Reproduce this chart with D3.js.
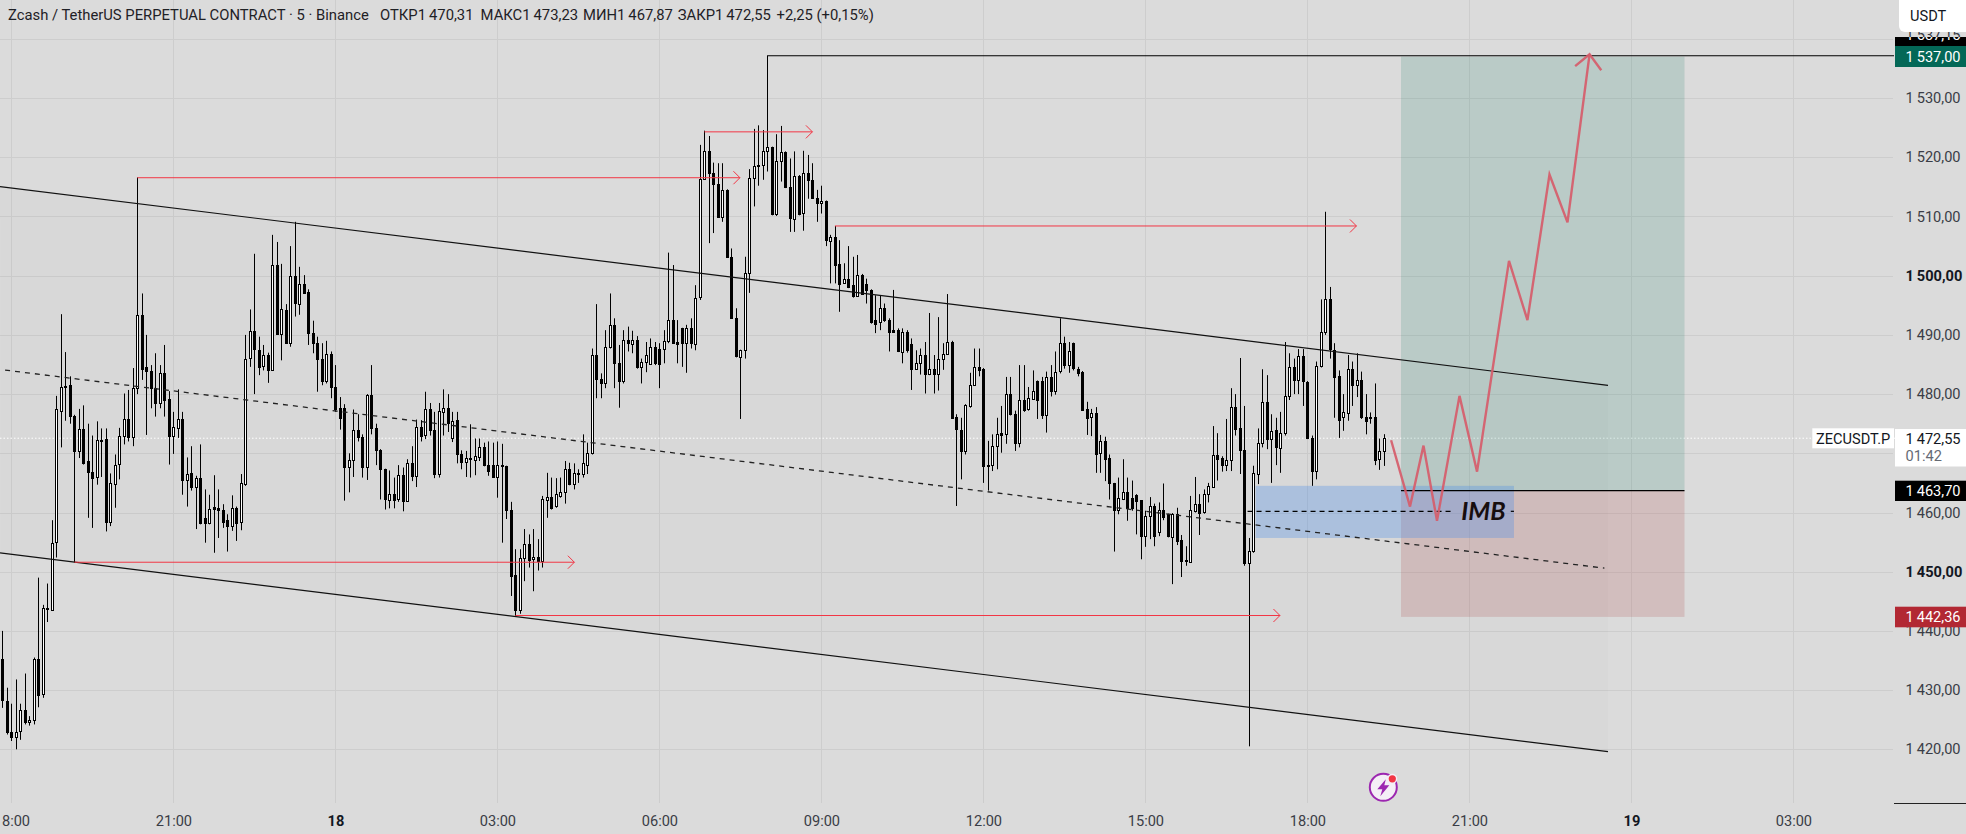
<!DOCTYPE html>
<html>
<head>
<meta charset="utf-8">
<title>ZECUSDT.P</title>
<script src="https://cdn.jsdelivr.net/npm/d3@7"></script>
<style>
    html, body { margin: 0; padding: 0; background: #dbdbdb; overflow: hidden; }
    text { font-family: Roboto, "Liberation Sans", sans-serif; }
</style>
</head>
<body>
<div id="chart"></div>
<script>
// candles, 5 minute bars, first one is two bars before the 18:00 tick
const firstBar = -2;

const opens = [
    1435.2,1428.2,1423,1422.2,1423,1426.6,1424.5,1424.9,1435.2,1429.2,
    1443.8,1443.5,1454.9,1477.2,1481.2,1481.5,1476.3,1470.4,1474.1,1468.7,
    1466.9,1465.9,1472.2,1472.4,1458.3,1464.9,1468.1,1472.9,1475.8,1472.7,
    1481,1493.4,1484.6,1483.9,1481,1478.4,1483.5,1479.1,1472.9,1474.2,
    1475.8,1465.5,1466.6,1464.3,1465.9,1459.1,1458.3,1460.9,1460.7,1460.5,
    1458.7,1457.7,1460.8,1458.3,1464.9,1486,1490.6,1487.5,1484.7,1486.6,
    1484,1501.8,1490.1,1494.2,1488.6,1499.9,1495.3,1498.6,1497.3,1490.4,
    1488.7,1486,1482.2,1486.8,1481.2,1477.7,1477.7,1467.7,1468.8,1473.9,
    1472.7,1467.7,1479.8,1474.2,1470.5,1467.3,1462.2,1463.2,1462.2,1466.3,
    1461.9,1468.4,1466.2,1474.5,1473,1477.4,1473.9,1466.5,1477,1477.6,
    1472.7,1475.6,1469.8,1468.6,1469.2,1469,1469.4,1471.1,1468,1468.1,
    1466,1468,1467.9,1460.5,1449.5,1443.6,1452.3,1454.7,1452,1452.4,
    1451.8,1462.1,1462.6,1461.1,1462.8,1463.4,1467.3,1464.8,1466.6,1466.4,
    1468.1,1470.1,1486.6,1482.6,1481.9,1487.9,1491.7,1485.2,1482.1,1489.1,
    1488.4,1489.1,1484.6,1485.5,1485.1,1487.9,1487.7,1487.7,1489,1492.5,
    1488.8,1491.1,1488.6,1491.1,1488.6,1496.3,1516.3,1521.1,1517.4,1515.5,
    1510,1514.5,1503.1,1492.8,1486.3,1487.4,1500.4,1516.5,1518.6,1518.7,
    1521,1521.7,1510.3,1519.3,1520.9,1515,1509.7,1516.9,1510.5,1517.3,
    1516.2,1513.1,1512.2,1512.6,1506,1506.5,1502,1498.8,1499.5,1498.4,
    1496.6,1500.2,1498.6,1497.6,1492.5,1492.1,1494.5,1492.6,1490.8,1490.8,
    1487.2,1490.5,1488.4,1484.2,1485.2,1486.6,1483.4,1484.2,1483.4,1486,
    1486.8,1488.8,1476.1,1474,1470.4,1478,1481.5,1484.6,1484.3,1468.1,
    1468,1471.2,1473.5,1473.3,1480,1476.7,1471.8,1479,1477.4,1479.3,
    1482.2,1482.2,1476.4,1482.9,1480.6,1483.8,1488.6,1484.9,1488.6,1484.3,
    1483.8,1477.4,1476.1,1476.8,1469.9,1472,1469.2,1465,1460.4,1462.4,
    1463.5,1462.5,1462.9,1462.1,1456,1459.4,1461.1,1456.8,1460.5,1459.7,
    1455.9,1459.8,1455.3,1451.9,1451.7,1460.3,1461.5,1460,1463.1,1464.3,
    1469.7,1469.2,1468,1468.9,1477.9,1474.2,1470.5,1451.4,1453.5,1466.6,
    1471.8,1478.7,1472.5,1473.9,1471,1473.5,1479.7,1484.6,1482.4,1486.4,
    1482.1,1472.6,1467,1484.7,1490.5,1496,1487.5,1483,1476,1476.7,
    1484.2,1481.5,1482.4,1476.2,1476,1476.2,1469,1470.31
];

const highs = [
    1440,1430.4,1427.7,1431.8,1427.7,1432.8,1425.6,1435.5,1449,1444.4,
    1448,1458.7,1479.7,1493.5,1487.1,1483,1476.5,1477.5,1478.1,1475,
    1473,1475.4,1474.2,1474.2,1466.6,1469.8,1474.3,1480.1,1480.7,1484.4,
    1516.6,1497,1490,1484.9,1486.9,1484.9,1488.3,1480.5,1477,1480.8,
    1477,1469.3,1471.2,1466.2,1471.5,1463.9,1463,1466.3,1463.9,1461.4,
    1459.7,1462.9,1461,1466.5,1490,1494.3,1503.7,1489.7,1488.3,1487,
    1506.9,1505.7,1502,1495.2,1505,1509.1,1501.5,1500.1,1497.7,1492.4,
    1489.7,1488.6,1489,1487.2,1484.9,1479.5,1478.3,1470,1477.4,1476.6,
    1473.2,1480,1484.9,1475,1470.7,1467.4,1467.1,1465.9,1468,1467.6,
    1469,1471.2,1475.7,1475.6,1480.4,1478.5,1477,1478.5,1480.8,1480,
    1477,1477,1470.5,1470.4,1474.9,1472.5,1472.5,1471.8,1472,1471.8,
    1472,1471.6,1467.9,1461.8,1453.8,1453.8,1457.2,1456.3,1457.2,1455.5,
    1462.8,1466.7,1465.9,1465.8,1465.9,1468.7,1468.4,1468.3,1467.3,1473.2,
    1471.8,1487.7,1495.2,1483.5,1490.8,1497,1492.8,1488.3,1490.8,1491.4,
    1490.7,1489.8,1486,1488.8,1489.4,1488.8,1488.6,1490.8,1503.9,1501.8,
    1492.5,1491.2,1491.7,1492.8,1498.4,1522.1,1524.5,1523.6,1519.1,1519,
    1519,1514.6,1504.6,1494.5,1487.5,1503.2,1518,1524.8,1525.4,1524.6,
    1537.2,1521.8,1523.9,1525.3,1521,1519.8,1521,1517,1521.1,1520.4,
    1519,1514.5,1515.2,1512.7,1506.9,1508.4,1506,1502.1,1505,1503.2,
    1503.5,1500.3,1499.5,1497.7,1496.7,1496.7,1495.3,1492.8,1497.6,1491.1,
    1491.1,1490.8,1489.4,1487.4,1487.7,1488.8,1493.7,1486.6,1493,1488.6,
    1496.9,1489,1476.6,1476,1478.3,1483.6,1487.7,1487.7,1484.4,1472.1,
    1473.2,1476,1478,1482.9,1482.9,1477.2,1484.9,1484.9,1481.2,1484,
    1482.3,1482.9,1483.8,1484.9,1487.2,1492.8,1489.7,1488.8,1488.7,1484.6,
    1483.9,1478.7,1477.5,1477.8,1473.1,1472.8,1469.8,1465,1465.9,1469,
    1465.9,1465.4,1463.1,1462.1,1460.3,1462.6,1461.5,1461.7,1464.9,1459.8,
    1459.9,1460.8,1456.2,1454.3,1462.8,1466,1463.1,1463.9,1465,1474.6,
    1473.4,1469.5,1475.8,1481,1480,1486.1,1478,1455.7,1467.9,1474.2,
    1484.2,1483.2,1476.6,1476,1477,1488.8,1486.9,1486,1487.6,1487.6,
    1482.2,1473,1485.5,1496,1510.8,1498.1,1488.6,1484,1480,1486.6,
    1485.5,1486.9,1483.8,1480,1476.9,1481.8,1472.5,1473.23
];

const lows = [
    1427,1422.5,1421.4,1420,1421.6,1424.2,1424,1424.2,1427.1,1428.7,
    1441.5,1443.4,1452.4,1471,1475.5,1475,1451.5,1469.2,1468.1,1459.1,
    1457.4,1464.7,1466,1456.8,1457.7,1460.8,1465.6,1471.5,1472,1471.2,
    1480,1482.4,1473.1,1477.6,1476.2,1477.6,1476.2,1468.1,1469.9,1472.6,
    1463,1461,1463.7,1457.2,1458,1454.9,1458,1453.2,1455.7,1457.4,
    1453.4,1456.9,1455.2,1457,1464.5,1484.6,1480,1483.2,1484,1481.9,
    1483.9,1490,1485.7,1488.5,1488,1493.1,1493.4,1497,1488.3,1486.9,
    1480.4,1481.5,1481.8,1479.3,1477,1474,1462,1463.4,1466,1472,
    1465.9,1465.5,1473.2,1468,1462.2,1460.5,1460.7,1460.7,1461.8,1460.2,
    1461.8,1465.3,1464.3,1472,1472.4,1473,1465.8,1465.9,1473,1473.6,
    1471.9,1468.3,1467.3,1466,1465.9,1466.3,1468.7,1467.8,1466.2,1466,
    1462.5,1454.9,1458.9,1445.9,1442.5,1442.9,1448.4,1450.7,1446.7,1450.2,
    1450.7,1459.1,1460.5,1460.8,1462.5,1461.5,1464.6,1463.9,1465,1465.9,
    1466.5,1469.8,1479.3,1479.3,1481,1487.7,1481,1477.7,1481.8,1487.2,
    1486.9,1484.3,1481.8,1483.7,1485,1484.9,1481,1485.2,1488.6,1488.5,
    1485.2,1484.6,1483.6,1487.7,1487.4,1495.9,1516.2,1505.5,1507.2,1510,
    1509.1,1503,1492.7,1486.2,1475.8,1486,1497.1,1511.7,1515.2,1516.2,
    1517.6,1510.2,1510.1,1515.9,1514.8,1507.4,1507.4,1510.2,1507.6,1513,
    1513,1509.1,1510.5,1505,1498.7,1498.7,1493.9,1498.7,1497.9,1496.3,
    1496.5,1496.9,1495.3,1491.9,1490.3,1490.8,1492.2,1487.2,1490.5,1487.1,
    1485.2,1487,1480.7,1484.1,1483.3,1480.1,1483.2,1480.1,1480.6,1484.1,
    1486.6,1475.8,1461.1,1465.6,1469.8,1477.7,1481.4,1483,1465,1463.7,
    1467,1467.3,1470.1,1471.6,1476.4,1470.4,1471,1477,1477.2,1479.2,
    1475.8,1475.8,1473.5,1479.6,1479.9,1483.5,1484.3,1483.6,1484,1483,
    1477.3,1473.1,1472.9,1466.7,1466.7,1465.3,1462.2,1453.4,1459.7,1462.1,
    1458.6,1460.3,1456.3,1452.1,1454.2,1455.5,1454.3,1456,1458.7,1455.8,
    1447.9,1454.5,1449.1,1451,1451.6,1460,1456.2,1459.8,1461.7,1464.3,
    1465.4,1466.9,1467,1467,1473,1466.5,1451,1420.5,1453.2,1464.8,
    1471,1470.7,1465,1468,1466.7,1473,1479,1480,1480,1478,
    1472.4,1464.5,1465.6,1484.5,1490,1486,1476,1472.6,1473.8,1475.5,
    1478,1479.5,1475.8,1473.2,1475,1468,1467.2,1467.87
];

const closes = [
    1428.2,1423,1422.2,1423,1426.6,1424.5,1424.9,1435.2,1429.2,1443.8,
    1443.6,1454.9,1477.4,1481.2,1481.4,1476.2,1470.4,1474.1,1468.4,1466.9,
    1465.9,1472.2,1472.3,1458.3,1464.9,1468.1,1472.9,1475.8,1472.7,1481,
    1493.4,1484.3,1483.9,1481,1478.4,1483.5,1479,1472.8,1474.5,1475.8,
    1465.5,1466.5,1464.3,1465.8,1458.3,1458.3,1460.6,1460.5,1460.4,1458.5,
    1457.7,1460.8,1458.3,1464.9,1486,1490.6,1487.5,1484.7,1486.6,1484,
    1501.8,1490.1,1494.3,1488.6,1499.9,1495.3,1498.6,1497.1,1490.4,1488.7,
    1486,1482.2,1486.8,1481.2,1477.4,1476,1467.7,1468.8,1473.9,1472.7,
    1467.7,1479.8,1474.2,1470.4,1467.3,1462.2,1463.2,1462.2,1466.3,1461.9,
    1468.4,1466.2,1474.5,1473,1477.4,1473.9,1466.5,1477.2,1477.6,1475,
    1475.5,1469.8,1468.4,1469.2,1469,1469.6,1471.1,1468,1467,1466,
    1468,1467.8,1460.4,1449.4,1443.6,1452.3,1454.7,1452,1452.4,1451.7,
    1462.2,1462.6,1460.8,1463.1,1463.4,1467.3,1464.8,1466.6,1466.5,1468.3,
    1470.1,1486.6,1482.6,1481.9,1487.9,1491.7,1485.2,1482.1,1489.1,1488.6,
    1489.1,1484.6,1485.5,1486.6,1487.9,1485.2,1485.2,1489,1492.5,1488.6,
    1488.4,1488.6,1491.1,1488.6,1496.3,1516.3,1521.1,1517.4,1515.5,1510,
    1514.5,1503.1,1492.8,1486.3,1487.4,1500.4,1516.5,1518.6,1518.7,1521,
    1521.7,1510.3,1519.3,1520.9,1515,1509.7,1516.9,1510.5,1517.3,1516.2,
    1513.1,1512.2,1512.6,1506,1506.6,1501.8,1498.7,1499.5,1498.1,1496.6,
    1500.2,1497,1497.6,1492.2,1491.9,1494.5,1492.5,1490.5,1490.5,1487.2,
    1490.5,1487.4,1484.1,1485.2,1486.6,1483.4,1484.2,1483.4,1486,1486.8,
    1488.8,1476,1474,1470.4,1478.1,1481.5,1484.6,1484.1,1467.9,1467.9,
    1471.2,1473.2,1473.2,1480,1476.7,1471.8,1479,1477.3,1479.3,1480.6,
    1479,1476.4,1482.9,1480.6,1483.8,1488.6,1484.9,1487.2,1484.3,1483.6,
    1477.4,1475.9,1476.8,1469.8,1472,1469,1465,1460.5,1462.5,1463.5,
    1460.8,1460.8,1461.9,1456,1459.4,1461.1,1456,1460.5,1459.4,1455.9,
    1459.8,1455.2,1451.7,1451.7,1460.5,1461.5,1460,1463.1,1464.5,1469.7,
    1469,1468,1468.9,1477.9,1474.2,1470.4,1451.4,1453.5,1466.6,1471.8,
    1478.7,1472.5,1473.8,1471,1473.5,1479.7,1484.6,1482.4,1486.4,1482.1,
    1472.6,1467,1484.7,1490.5,1496,1487.5,1483,1475.5,1476.9,1484.2,
    1481.5,1482.4,1476.2,1475.5,1476.2,1469,1470.4,1472.55
];

const priceTicks = [1420, 1430, 1440, 1450, 1460, 1470, 1480, 1490, 1500, 1510, 1520, 1530, 1540];
const boldPrices = [1450, 1500];
// 1470 and 1540 sit behind the price labels
const hiddenPrices = [1470, 1540];

const timeBars = [0, 36, 72, 108, 144, 180, 216, 252, 288, 324, 360, 396];
const timeLabels = ['18:00', '21:00', '18', '03:00', '06:00', '09:00', '12:00', '15:00', '18:00', '21:00', '19', '03:00'];
const boldTimes = ['18', '19'];

const lastPrice = 1472.55;
const entryPrice = 1463.70;
const targetPrice = 1537.00;
const stopPrice = 1442.36;
const highLabel = 1537.15;

// drawings: [bar, price]
const channelTop = [[-2.53, 1515.05], [354.8, 1481.47]];
const channelBottom = [[-2.53, 1453.17], [354.8, 1419.6]];
const channelMiddle = [[-1.4, 1484.06], [354, 1450.6]];

// [start bar, price, end bar]
const rayLevels = [
    [28, 1516.55, 161.9],
    [154, 1524.3, 178],
    [183, 1508.4, 298.9],
    [14, 1451.6, 125.1],
    [112, 1442.6, 281.9]
];

const forecastPath = [
    [306.6, 1472.2], [310.8, 1461], [313.8, 1471.3], [316.8, 1458.6], [321.8, 1479.7],
    [325.7, 1466.9], [332.8, 1502.5], [336.9, 1492.5], [341.8, 1517.1], [345.8, 1509],
    [350.7, 1537.4]
];
const forecastHead = [[347.5, 1535.4], [350.7, 1537.4], [353.3, 1534.7]];

const positionBars = [308.8, 371.8];
const imbalanceBars = [276.5, 333.9];
const imbalancePrices = [1464.5, 1455.7];
const imbalanceMid = 1460.2;

const headerParts = [
    'Zcash / TetherUS PERPETUAL CONTRACT · 5 · Binance',
    'ОТКР1\u2009470,31',
    'МАКС1\u2009473,23',
    'МИН1\u2009467,87',
    'ЗАКР1\u2009472,55',
    '+2,25 (+0,15%)'
];
const headerX = [8, 380, 480.6, 583, 677.7, 776.6];

const width = 1966,
    height = 834,
    paneRight = 1895,
    paneBottom = 803;

const x = d3.scaleLinear().domain([0, 396]).range([11.4, 1793.4]);
const y = d3.scaleLinear().domain([1420, 1530]).range([749.3, 98.1]);

const svg = d3.select('#chart')
    .append('svg')
    .attr('width', width)
    .attr('height', height)
    .style('display', 'block');

const defs = svg.append('defs');
defs.append('clipPath').attr('id', 'pane')
    .append('rect').attr('width', paneRight).attr('height', paneBottom);

svg.append('rect').attr('width', width).attr('height', height).attr('fill', '#dbdbdb');

const line = d3.line().x(d => x(d[0])).y(d => y(d[1]));

// Format like the Russian locale: thin space after the thousands, comma for decimals
function fmtPrice(p) {
    const s = p.toFixed(2).replace('.', ',');
    return s[0] + '\u2009' + s.slice(1);
}

const pane = svg.append('g').attr('clip-path', 'url(#pane)');

// #region Grid

pane.selectAll('.h-grid')
    .data(priceTicks)
    .enter()
    .append('line')
    .attr('x1', 0)
    .attr('x2', paneRight - 2)
    .attr('y1', d => Math.round(y(d)) + 0.5)
    .attr('y2', d => Math.round(y(d)) + 0.5)
    .attr('stroke', '#cdcdcd')
    .attr('stroke-width', 1);

pane.selectAll('.v-grid')
    .data(timeBars)
    .enter()
    .append('line')
    .attr('x1', d => Math.round(x(d)) + 0.5)
    .attr('x2', d => Math.round(x(d)) + 0.5)
    .attr('y1', 0)
    .attr('y2', paneBottom)
    .attr('stroke', '#cdcdcd')
    .attr('stroke-width', 1);

// #endregion

// Channel background, very faint
pane.append('path')
    .attr('d', line(channelTop.concat(channelBottom.slice().reverse())) + 'Z')
    .attr('fill', '#000')
    .attr('fill-opacity', 0.012);

// Last price line
pane.append('line')
    .attr('x1', 0)
    .attr('x2', paneRight)
    .attr('y1', y(lastPrice))
    .attr('y2', y(lastPrice))
    .attr('stroke', '#ffffff')
    .attr('stroke-width', 1)
    .attr('stroke-dasharray', '1.5 2');

// #region Candles

const bars = opens.map((o, i) => ({
    bar: firstBar + i,
    open: o,
    high: highs[i],
    low: lows[i],
    close: closes[i]
}));

pane.selectAll('.wick')
    .data(bars)
    .enter()
    .append('line')
    .attr('class', 'wick')
    .attr('x1', d => Math.round(x(d.bar)) + 0.5)
    .attr('x2', d => Math.round(x(d.bar)) + 0.5)
    .attr('y1', d => y(d.high))
    .attr('y2', d => y(d.low))
    .attr('stroke', '#000')
    .attr('stroke-width', 1);

pane.selectAll('.body')
    .data(bars)
    .enter()
    .append('rect')
    .attr('class', 'body')
    .attr('x', d => Math.round(x(d.bar)) - 0.5)
    .attr('width', 2)
    .attr('y', d => Math.round(y(Math.max(d.open, d.close))) + 0.5)
    .attr('height', d => Math.max(1, Math.round(Math.abs(y(d.open) - y(d.close)))))
    .attr('fill', d => d.close >= d.open ? '#ffffff' : '#000000')
    .attr('stroke', '#000')
    .attr('stroke-width', 1)
    .attr('shape-rendering', 'crispEdges');

// #endregion

// #region Drawings

// Long position box
pane.append('rect')
    .attr('x', x(positionBars[0]))
    .attr('width', x(positionBars[1]) - x(positionBars[0]))
    .attr('y', y(targetPrice))
    .attr('height', y(entryPrice) - y(targetPrice))
    .attr('fill', '#00705a')
    .attr('fill-opacity', 0.15);

pane.append('rect')
    .attr('x', x(positionBars[0]))
    .attr('width', x(positionBars[1]) - x(positionBars[0]))
    .attr('y', y(entryPrice))
    .attr('height', y(stopPrice) - y(entryPrice))
    .attr('fill', '#b14d4d')
    .attr('fill-opacity', 0.2);

pane.append('rect')
    .attr('x', x(imbalanceBars[0]))
    .attr('width', x(imbalanceBars[1]) - x(imbalanceBars[0]))
    .attr('y', y(imbalancePrices[0]))
    .attr('height', y(imbalancePrices[1]) - y(imbalancePrices[0]))
    .attr('fill', '#4f8fe8')
    .attr('fill-opacity', 0.33);

pane.append('line')
    .attr('x1', x(positionBars[0]))
    .attr('x2', x(positionBars[1]))
    .attr('y1', y(entryPrice))
    .attr('y2', y(entryPrice))
    .attr('stroke', '#000')
    .attr('stroke-width', 1.2);

// Middle of the imbalance, broken where the IMB label sits
[[274.7, 320], [333.2, 333.9]].forEach(function(seg) {
    pane.append('line')
        .attr('x1', x(seg[0]))
        .attr('x2', x(seg[1]))
        .attr('y1', y(imbalanceMid))
        .attr('y2', y(imbalanceMid))
        .attr('stroke', '#000')
        .attr('stroke-width', 1.2)
        .attr('stroke-dasharray', '5 4');
});

pane.append('path')
    .attr('d', line(channelTop))
    .attr('fill', 'none')
    .attr('stroke', '#111')
    .attr('stroke-width', 1.2);

pane.append('path')
    .attr('d', line(channelBottom))
    .attr('fill', 'none')
    .attr('stroke', '#111')
    .attr('stroke-width', 1.2);

pane.append('path')
    .attr('d', line(channelMiddle))
    .attr('fill', 'none')
    .attr('stroke', '#222')
    .attr('stroke-width', 1.3)
    .attr('stroke-dasharray', '5 5');

// Level the target sits on
pane.append('line')
    .attr('x1', x(168))
    .attr('x2', paneRight - 1)
    .attr('y1', y(highLabel))
    .attr('y2', y(highLabel))
    .attr('stroke', '#000')
    .attr('stroke-width', 1.2);

pane.selectAll('.ray')
    .data(rayLevels)
    .enter()
    .append('path')
    .attr('class', 'ray')
    .attr('d', function(d) {
        let x0 = x(d[0]), x1 = x(d[2]), yy = y(d[1]);
        return 'M' + x0 + ',' + yy + 'H' + x1 +
            'M' + (x1 - 6.5) + ',' + (yy - 6.5) + 'L' + x1 + ',' + yy + 'L' + (x1 - 6.5) + ',' + (yy + 6.5);
    })
    .attr('fill', 'none')
    .attr('stroke', '#f23645')
    .attr('stroke-width', 1);

pane.append('path')
    .attr('d', line(forecastPath))
    .attr('fill', 'none')
    .attr('stroke', '#d65c6a')
    .attr('stroke-width', 2.4)
    .attr('stroke-opacity', 0.92);

pane.append('path')
    .attr('d', line(forecastHead))
    .attr('fill', 'none')
    .attr('stroke', '#d65c6a')
    .attr('stroke-width', 2.4)
    .attr('stroke-opacity', 0.92);

svg.append('text')
    .attr('x', x(327.1))
    .attr('y', y(imbalanceMid))
    .attr('dy', '0.36em')
    .attr('font-size', 25)
    .attr('font-style', 'italic')
    .attr('font-weight', 700)
    .attr('fill', '#170e0e')
    .style('font-family', 'Lato, sans-serif')
    .attr('text-anchor', 'middle')
    .text('IMB');

// #endregion

// #region Axes

const priceAxis = d3.axisRight(y)
    .tickValues(priceTicks.filter(p => !hiddenPrices.includes(p)))
    .tickSize(0)
    .tickPadding(0)
    .tickFormat(fmtPrice);

const yAxisG = svg.append('g')
    .attr('transform', 'translate(1905.5,0)')
    .call(priceAxis);
yAxisG.select('.domain').remove();
yAxisG.selectAll('text')
    .attr('font-size', 14.6)
    .style('font-family', 'Roboto, sans-serif')
    .attr('fill', d => boldPrices.includes(d) ? '#131722' : '#3a3d46')
    .attr('font-weight', d => boldPrices.includes(d) ? 700 : 400);

const timeAxis = d3.axisBottom(x)
    .tickValues(timeBars)
    .tickSize(0)
    .tickPadding(0)
    .tickFormat((d, i) => timeLabels[i]);

const xAxisG = svg.append('g')
    .attr('transform', 'translate(0,' + 816 + ')')
    .call(timeAxis);
xAxisG.select('.domain').remove();
xAxisG.selectAll('text')
    .attr('font-size', 14.6)
    .style('font-family', 'Roboto, sans-serif')
    .attr('fill', (d, i) => boldTimes.includes(timeLabels[i]) ? '#131722' : '#3a3d46')
    .attr('font-weight', (d, i) => boldTimes.includes(timeLabels[i]) ? 700 : 400);

svg.append('line')
    .attr('x1', paneRight - 1)
    .attr('x2', width)
    .attr('y1', paneBottom + 0.5)
    .attr('y2', paneBottom + 0.5)
    .attr('stroke', '#222')
    .attr('stroke-width', 1);

// #endregion

// #region Price labels

function priceLabel(price, top, bottom, fill, color) {
    svg.append('rect')
        .attr('x', paneRight)
        .attr('y', top)
        .attr('width', width - paneRight)
        .attr('height', bottom - top)
        .attr('fill', fill);
    svg.append('text')
        .attr('x', 1905.5)
        .attr('y', (top + bottom) / 2)
        .attr('dy', '0.36em')
        .attr('font-size', 14.6)
        .attr('fill', color)
        .text(fmtPrice(price));
}

// High of the visible range, mostly covered by the target label
defs.append('clipPath').attr('id', 'high-dark')
    .append('rect').attr('x', paneRight).attr('y', 32).attr('width', width - paneRight).attr('height', 5);
defs.append('clipPath').attr('id', 'high-light')
    .append('rect').attr('x', paneRight).attr('y', 37).attr('width', width - paneRight).attr('height', 9);

svg.append('rect')
    .attr('x', paneRight).attr('y', 37).attr('width', width - paneRight).attr('height', 9).attr('fill', '#000');
svg.append('text')
    .attr('x', 1905.5).attr('y', 35).attr('dy', '0.36em').attr('font-size', 14.6)
    .attr('fill', '#3a3d46').attr('clip-path', 'url(#high-dark)').text(fmtPrice(highLabel));
svg.append('text')
    .attr('x', 1905.5).attr('y', 35).attr('dy', '0.36em').attr('font-size', 14.6)
    .attr('fill', '#fff').attr('clip-path', 'url(#high-light)').text(fmtPrice(highLabel));

priceLabel(targetPrice, 46, 67, '#046857', '#ffffff');
priceLabel(entryPrice, 480.7, 501, '#000000', '#ffffff');
priceLabel(stopPrice, 606.7, 627.3, '#b22833', '#ffffff');

svg.append('rect')
    .attr('x', paneRight).attr('y', 429).attr('width', width - paneRight).attr('height', 37.5).attr('fill', '#fff');
svg.append('text')
    .attr('x', 1905.5).attr('y', 438.4).attr('dy', '0.36em').attr('font-size', 14.6)
    .attr('fill', '#131722').text(fmtPrice(lastPrice));
svg.append('text')
    .attr('x', 1905.5).attr('y', 456).attr('dy', '0.36em').attr('font-size', 14.6)
    .attr('fill', '#666a73').text('01:42');

svg.append('rect')
    .attr('x', 1812.3).attr('y', 428.3).attr('width', 81.7).attr('height', 20).attr('fill', '#fff');
svg.append('text')
    .attr('x', 1853.2).attr('y', 438.4).attr('dy', '0.36em').attr('font-size', 14.6)
    .attr('text-anchor', 'middle').attr('fill', '#131722').text('ZECUSDT.P');

svg.append('rect')
    .attr('x', 1899).attr('y', -6).attr('width', 80).attr('height', 38).attr('rx', 6).attr('fill', '#fff');
svg.append('text')
    .attr('x', 1910).attr('y', 15.5).attr('dy', '0.36em').attr('font-size', 14.6)
    .attr('fill', '#131722').text('USDT');

// #endregion

// Header
svg.selectAll('.header')
    .data(headerParts)
    .enter()
    .append('text')
    .attr('class', 'header')
    .attr('x', (d, i) => headerX[i])
    .attr('y', 15)
    .attr('dy', '0.36em')
    .attr('font-size', 14.8)
    .attr('fill', '#1f2126')
    .text(d => d);

// Lightning badge
const badge = svg.append('g').attr('transform', 'translate(1383.3,787.3)');
badge.append('circle').attr('r', 13.5).attr('fill', '#f4eef6').attr('stroke', '#9c27b0').attr('stroke-width', 2);
badge.append('path').attr('d', 'M2.5,-8 L-6,2 L-1,2 L-3,9 L6,-2 L1,-2 Z').attr('fill', '#9c27b0');
badge.append('circle').attr('cx', 9).attr('cy', -8.5).attr('r', 5).attr('fill', '#f4eef6');
badge.append('circle').attr('cx', 9).attr('cy', -8.5).attr('r', 3.6).attr('fill', '#f23645');
</script>
</body>
</html>
